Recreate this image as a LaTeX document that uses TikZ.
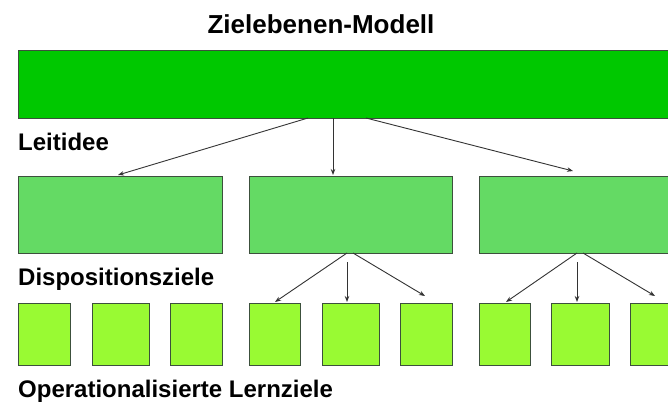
\documentclass[tikz,border=0pt]{standalone}
\usepackage{fontspec}
\setmainfont{Liberation Sans}
\usetikzlibrary{arrows.meta}
\definecolor{topgreen}{RGB}{0,200,0}
\definecolor{midgreen}{RGB}{100,218,100}
\definecolor{lowgreen}{RGB}{153,250,51}
\definecolor{edge}{RGB}{60,80,60}
\begin{document}
\begin{tikzpicture}[x=1pt,y=-1pt,
  box/.style={draw=edge,line width=0.8pt},
  lbl/.style={anchor=base west,inner sep=0pt,font=\fontsize{24}{28}\selectfont\bfseries},
  conn/.style={draw=black!80,line width=0.9pt,-{Stealth[length=6pt,width=4.5pt]}}]
\useasboundingbox (0,0) rectangle (668,404);
\fill[white] (0,0) rectangle (668,404);
\node[anchor=base,inner sep=0pt,font=\fontsize{26}{30}\selectfont\bfseries] (title) at (321,34) {Zielebenen-Modell};
% top bar
\draw[box,fill=topgreen] (18,50) rectangle (690,118);
\coordinate (tl) at (308,118);
\coordinate (tm) at (333,118);
\coordinate (tr) at (366,118);
\node[lbl] (leit) at (18,150) {Leitidee};
% level 2
\draw[box,fill=midgreen] (18,176) rectangle (222,253);
\draw[box,fill=midgreen] (249,176) rectangle (452,253);
\draw[box,fill=midgreen] (479,176) rectangle (690,253);
\coordinate (a1) at (118,175);
\coordinate (a2) at (333,175);
\coordinate (a3) at (573,171);
\draw[conn] (tl) -- (a1);
\draw[conn] (tm) -- (a2);
\draw[conn] (tr) -- (a3);
\node[lbl] (disp) at (18,285) {Dispositionsziele};
% level 3
\foreach \xa/\xb in {18/70,92/149,170/222,249/300,322/379,400/452,479/530,551/609,630/690}{
  \draw[box,fill=lowgreen] (\xa,303) rectangle (\xb,365);
}
\coordinate (b2l) at (347,253);
\coordinate (b2m) at (347,262);
\coordinate (b2r) at (353,253);
\coordinate (c4) at (275,302);
\coordinate (c5) at (347,302);
\coordinate (c6) at (425,296);
\draw[conn] (b2l) -- (c4);
\draw[conn] (b2m) -- (c5);
\draw[conn] (b2r) -- (c6);
\coordinate (b3l) at (577,253);
\coordinate (b3m) at (577,262);
\coordinate (b3r) at (583,253);
\coordinate (c7) at (506,302);
\coordinate (c8) at (577,302);
\coordinate (c9) at (655,296);
\draw[conn] (b3l) -- (c7);
\draw[conn] (b3m) -- (c8);
\draw[conn] (b3r) -- (c9);
\node[lbl] (oper) at (18,397) {Operationalisierte Lernziele};
\end{tikzpicture}
\end{document}
